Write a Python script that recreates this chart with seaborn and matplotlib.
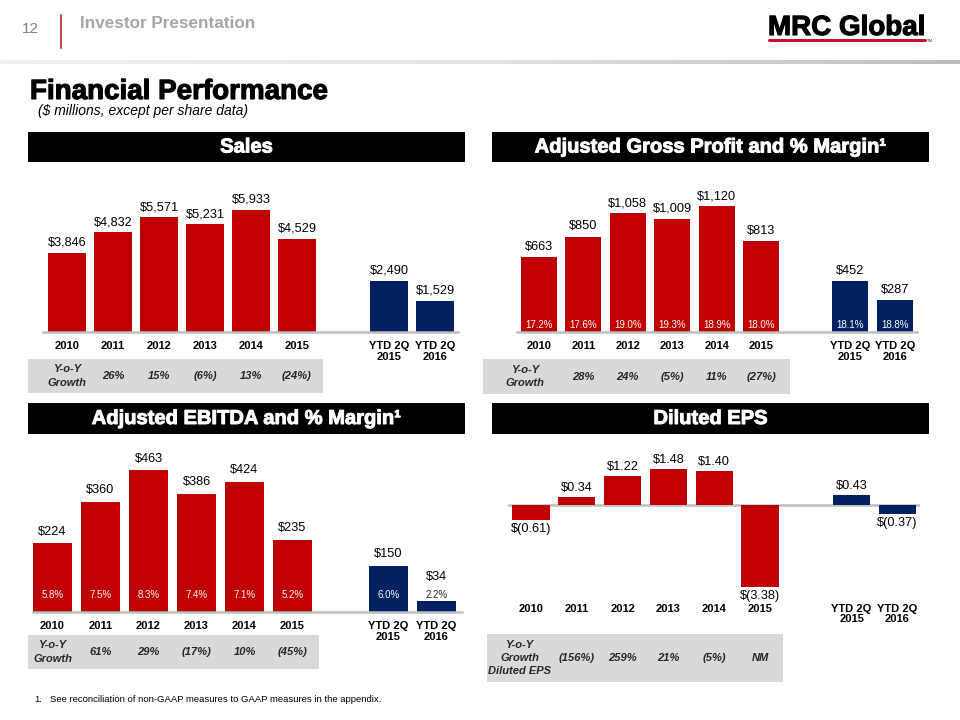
import numpy as np
import pandas as pd
import matplotlib
matplotlib.use("Agg")
import matplotlib.pyplot as plt
import seaborn as sns
from matplotlib import transforms
from matplotlib.patches import Rectangle
from matplotlib.lines import Line2D
from matplotlib.colors import LinearSegmentedColormap
import matplotlib.patheffects as pe

# ---------------- data ----------------
periods = ["2010", "2011", "2012", "2013", "2014", "2015", "YTD 2Q\n2015", "YTD 2Q\n2016"]
period_type = ["annual"] * 6 + ["ytd"] * 2

sales = [3846, 4832, 5571, 5231, 5933, 4529, 2490, 1529]
sales_growth = ["26%", "15%", "(6%)", "13%", "(24%)"]

gross_profit = [663, 850, 1058, 1009, 1120, 813, 452, 287]
gross_margin = ["17.2%", "17.6%", "19.0%", "19.3%", "18.9%", "18.0%", "18.1%", "18.8%"]
gross_growth = ["28%", "24%", "(5%)", "11%", "(27%)"]

ebitda = [224, 360, 463, 386, 424, 235, 150, 34]
ebitda_margin = ["5.8%", "7.5%", "8.3%", "7.4%", "7.1%", "5.2%", "6.0%", "2.2%"]
ebitda_growth = ["61%", "29%", "(17%)", "10%", "(45%)"]

eps = [-0.61, 0.34, 1.22, 1.48, 1.40, -3.38, 0.43, -0.37]
eps_growth = ["(156%)", "259%", "21%", "(5%)", "NM"]

# ---------------- style ----------------
sns.set_theme(style="white")
plt.rcParams['font.family'] = ['Liberation Sans', 'DejaVu Sans']

RED = "#C00000"
NAVY = "#002060"
AXIS_GRAY = "#BFBFBF"
BOX_GRAY = "#D9D9D9"
W, H = 960, 720

fig = plt.figure(figsize=(9.6, 7.2), dpi=100)
fig.patch.set_facecolor("white")

# slot positions: gap of one slot before the YTD bars
pos = []
k = 0
for i, t in enumerate(period_type):
    if i > 0 and t != period_type[i - 1]:
        k += 1
    pos.append(k)
    k += 1

HEAVY_W = [pe.withStroke(linewidth=0.7, foreground="white")]
HEAVY_K = [pe.withStroke(linewidth=0.8, foreground="black")]


def px_axes(l, t, r, b):
    return fig.add_axes([l / W, 1 - b / H, (r - l) / W, (b - t) / H])


def fig_rect(l, t, r, b, color, z=0):
    fig.add_artist(Rectangle((l / W, 1 - b / H), (r - l) / W, (b - t) / H,
                             transform=fig.transFigure, color=color, zorder=z, lw=0))


def header(l, t, r, b, text):
    fig_rect(l, t, r, b, "black")
    fig.text((l + r) / 2 / W, 1 - (t + b) / 2 / H, text, color="white",
             fontsize=14.5, fontweight="bold", ha="center", va="center",
             path_effects=HEAVY_W)


def panel(c0, sp, L, R, base, scale, top, bottom, values, fmt,
          label_off_px=10, floor=None, margins=None, margin_px=None,
          growth=None, growth_box=None, yoy_text="Y-o-Y\nGrowth", yoy_shift=0.0,
          tick_pad=6.5, zero_line=False):
    ax = px_axes(L, top, R, bottom)
    df = pd.DataFrame({"pos": pos, "val": values, "grp": period_type})
    sns.barplot(data=df, x="pos", y="val", hue="grp",
                palette={"annual": RED, "ytd": NAVY}, native_scale=True,
                width=0.81, dodge=False, legend=False, errorbar=None,
                saturation=1, linewidth=0, ax=ax)
    ax.set_xlim((L - c0) / sp, (R - c0) / sp)
    ax.set_ylim((base - bottom) / scale, (base - top) / scale)
    ax.set_facecolor("none")
    for s in ["top", "left", "right", "bottom"]:
        ax.spines[s].set_visible(False)
    if zero_line:
        ax.axhline(0, color=AXIS_GRAY, lw=1.8, zorder=0)
    else:
        ax.spines["bottom"].set_visible(True)
        ax.spines["bottom"].set_color(AXIS_GRAY)
        ax.spines["bottom"].set_linewidth(1.8)
    ax.set_yticks([])
    ax.set_xticks(pos)
    ax.set_xticklabels(periods, fontweight="bold", fontsize=8,
                       linespacing=1.1, color="black")
    ax.tick_params(axis="x", length=0, pad=tick_pad)
    ax.set_xlabel("")
    ax.set_ylabel("")

    off = label_off_px * 72 / 100
    for p, v in zip(pos, values):
        if v >= 0:
            anchor = v if floor is None else max(v, floor)
            ax.annotate(fmt(v), (p, anchor), xytext=(0, off), textcoords="offset points",
                        ha="center", va="center", fontsize=9.2, color="black",
                        annotation_clip=False)
        else:
            ax.annotate(fmt(v), (p, v), xytext=(0, -off), textcoords="offset points",
                        ha="center", va="center", fontsize=9.2, color="black",
                        annotation_clip=False)

    if margins is not None:
        for p, v, m in zip(pos, values, margins):
            inside = v * scale > margin_px + 5
            ax.annotate(m, (p, 0), xytext=(0, margin_px * 72 / 100), textcoords="offset points",
                        ha="center", va="center", fontsize=7,
                        color="white" if inside else "#262626")

    if growth is not None:
        l, t, r, b = growth_box
        fig_rect(l, t, r, b, BOX_GRAY)
        trans = transforms.blended_transform_factory(ax.transData, fig.transFigure)
        yc = 1 - (t + b) / 2 / H
        fig.text(pos[0] + yoy_shift, yc, yoy_text, transform=trans, ha="center", va="center",
                 fontsize=8, fontweight="bold", fontstyle="italic", linespacing=1.4)
        for p, g in zip(pos[1:], growth):
            fig.text(p, yc, g, transform=trans, ha="center", va="center",
                     fontsize=8, fontweight="bold", fontstyle="italic")
    return ax


def money0(v):
    return f"${v:,.0f}"


def money2(v):
    return f"${v:.2f}" if v >= 0 else f"$({-v:.2f})"


# ---------------- top banner ----------------
fig.text(22 / W, 1 - 29 / H, "12", color="#7F7F7F", fontsize=11, va="center", ha="left")
fig.add_artist(Line2D([61 / W, 61 / W], [1 - 15 / H, 1 - 48 / H], color="#C0504D", lw=1.5,
                      transform=fig.transFigure))
fig.text(80 / W, 1 - 24 / H, "Investor Presentation", color="#A6A6A6", fontsize=12.3,
         fontweight="bold", va="center", ha="left")
gax = px_axes(0, 60, 960, 64)
grad = np.linspace(0, 1, 256)[None, :]
cmap = LinearSegmentedColormap.from_list("g", ["#F2F2F2", "#E3E3E3", "#BDBDBD"])
gax.imshow(grad, aspect="auto", cmap=cmap, extent=(0, 1, 0, 1))
gax.axis("off")

fig.text(768 / W, 1 - 28 / H, "MRC Global", fontsize=20, fontweight="heavy",
         va="center", ha="left", color="black", path_effects=HEAVY_K)
fig.add_artist(Line2D([769 / W, 925 / W], [1 - 39.5 / H, 1 - 39.5 / H], color="#C8102E", lw=2.2,
                      transform=fig.transFigure))
fig.text(927 / W, 1 - 41 / H, "TM", fontsize=3, va="center", ha="left", color="#404040")

fig.text(30 / W, 1 - 92 / H, "Financial Performance", fontsize=20, fontweight="bold",
         va="center", ha="left", color="black", path_effects=HEAVY_K)
fig.text(38 / W, 1 - 111 / H, "($ millions, except per share data)", fontsize=10,
         fontstyle="italic", va="center", ha="left", color="black")

# ---------------- headers ----------------
header(28, 132, 465, 162, "Sales")
header(492, 132, 929, 162, "Adjusted Gross Profit and % Margin¹")
header(28, 403, 465, 434, "Adjusted EBITDA and % Margin¹")
header(492, 403, 929, 434, "Diluted EPS")

# ---------------- panels ----------------
panel(67, 46, 43, 458, 332, 0.0206, 185, 332, sales, money0,
      growth=sales_growth, growth_box=(28, 359, 323, 393))

panel(538.7, 44.5, 517, 917, 331.7, 0.112, 185, 331.7, gross_profit, money0,
      margins=gross_margin, margin_px=6.7,
      growth=gross_growth, growth_box=(483, 359, 790, 394), yoy_shift=-0.3)

panel(52.5, 48, 33, 462, 611.7, 0.306, 455, 611.7, ebitda, money0,
      label_off_px=11.5, floor=75, margins=ebitda_margin, margin_px=16.4,
      growth=ebitda_growth, growth_box=(28, 635, 319, 669))

panel(531, 45.8, 508, 920, 505.3, 24.3, 455, 598, eps, money2,
      label_off_px=9, tick_pad=4, zero_line=True,
      growth=eps_growth, growth_box=(487, 634, 783, 682),
      yoy_text="Y-o-Y\nGrowth\nDiluted EPS", yoy_shift=-0.25)

fig.text(34 / W, 1 - 700 / H, "1.", fontsize=6.8, va="center", ha="left", color="black")
fig.text(50.5 / W, 1 - 700 / H,
         "See reconciliation of non-GAAP measures to GAAP measures in the appendix.",
         fontsize=6.8, va="center", ha="left", color="black")

fig.savefig("out.png", dpi=100, facecolor="white")
